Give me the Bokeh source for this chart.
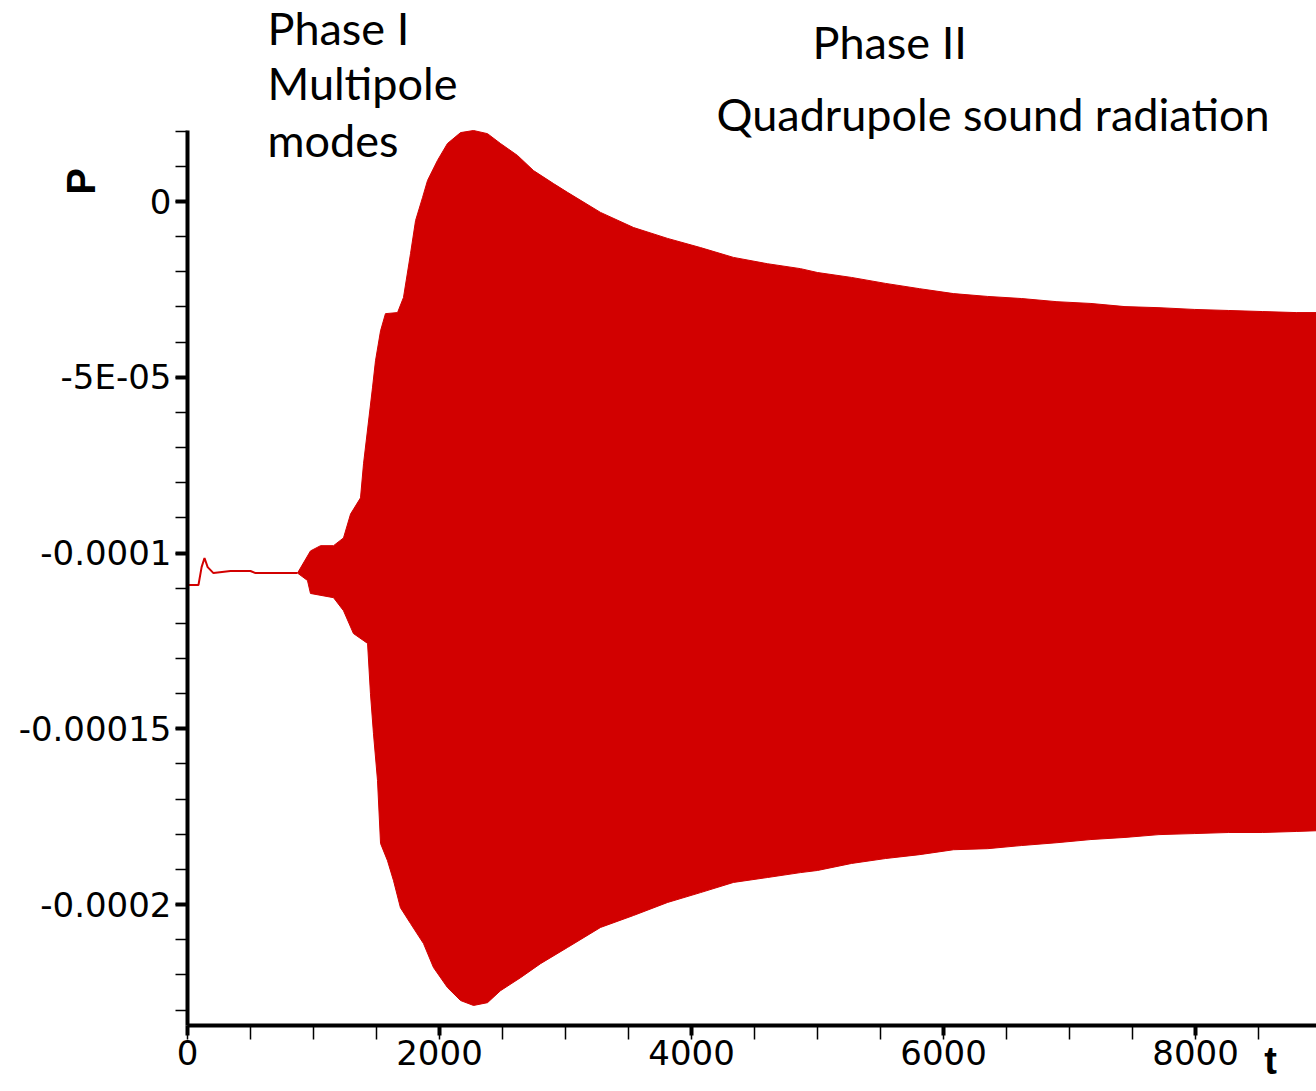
from bokeh.plotting import figure
from bokeh.models import Range1d, FixedTicker, CustomJSTickFormatter, Label
from bokeh.embed import file_html
from bokeh.resources import INLINE
import math

# ---------------- data ----------------
P_UNIT = 1e-6  # values below are in units of 1e-6

# quiet start before the oscillation sets in
t_start = [0, 87, 112, 135, 160, 206, 341, 500, 540, 817, 873]
p_start = [-109.1, -109.1, -104.0, -101.4, -104.0, -105.7, -105.1, -105.1, -105.7, -105.7, -105.7]

# upper envelope of the oscillating signal
t_upper = [873, 976, 1056, 1159, 1238, 1294, 1373, 1397, 1468, 1492, 1532, 1571, 1667, 1714,
           1770, 1810, 1865, 1905, 1984, 2063, 2167, 2270, 2381, 2484, 2619, 2746, 2905, 3016,
           3278, 3540, 3810, 4071, 4333, 4603, 4865, 5000, 5270, 5540, 5810, 6080, 6350,
           6620, 6900, 7170, 7440, 7710, 7990, 8260, 8530, 8800, 8960]
p_upper = [-105.7, -99.4, -97.9, -97.9, -95.7, -88.9, -84.3, -74.6, -53.0, -45.3, -36.8, -31.9,
           -31.6, -27.3, -14.8, -5.4, 1.1, 6.0, 11.7, 16.5, 19.6, 20.2, 19.3, 16.5, 13.1, 8.8,
           5.1, 2.6, -3.1, -7.4, -10.5, -13.1, -15.9, -17.7, -19.1, -20.2, -21.6, -23.3, -24.8,
           -26.2, -27.0, -27.6, -28.5, -29.0, -29.9, -30.2, -30.7, -31.0, -31.3, -31.6, -31.6]

# lower envelope of the oscillating signal
t_lower = [873, 952, 976, 1159, 1238, 1317, 1429, 1452, 1476, 1508, 1532, 1587, 1635, 1690,
           1770, 1873, 1952, 2063, 2167, 2270, 2381, 2484, 2643, 2802, 3016, 3278, 3540, 3810,
           4071, 4333, 4603, 4865, 5000, 5270, 5540, 5810, 6080, 6350, 6620, 6900, 7170,
           7440, 7710, 7990, 8260, 8530, 8800, 8960]
p_lower = [-105.7, -107.8, -111.5, -112.7, -116.4, -122.9, -125.7, -140.0, -151.4, -164.7,
           -182.6, -187.5, -193.2, -200.9, -205.4, -211.1, -217.9, -223.6, -227.3, -228.7,
           -227.9, -224.5, -220.8, -216.8, -212.2, -206.5, -203.1, -199.4, -196.6, -193.7,
           -192.3, -190.9, -190.3, -188.3, -186.9, -185.8, -184.4, -184.1, -183.2, -182.4,
           -181.5, -180.9, -180.1, -179.8, -179.5, -179.5, -179.2, -179.0]

# axis ticks and labels
x_ticks = [0, 2000, 4000, 6000, 8000]
x_tick_labels = ["0", "2000", "4000", "6000", "8000"]
x_minor = [v * 500 for v in range(0, 19)]
y_ticks = [-200, -150, -100, -50, 0]
y_tick_labels = ["-0.0002", "-0.00015", "-0.0001", "-5E-05", "0"]
y_minor = [v * 10 for v in range(-23, 3)]

# ---------------- layout ----------------
W, H = 1316, 1091
LEFT, TOP, BOTTOM = 187, 130, 66          # where the axes box sits in the canvas
X0, X1 = 0.0, 8960.0                       # visible t span of the axes box
Y0, Y1 = -234.4 * P_UNIT, 20.2 * P_UNIT    # visible P span of the axes box
XPP = (X1 - X0) / (W - LEFT)               # data units per pixel
YPP = (Y1 - Y0) / (H - TOP - BOTTOM)
XR0, XR1 = X0 - LEFT * XPP, X1
YR0, YR1 = Y0 - BOTTOM * YPP, Y1 + TOP * YPP
TEXT_SHIFT = 17                            # baseline correction for labels, px

def dx(px):
    return XR0 + px * XPP

def dy(py):
    return YR1 - (py - TEXT_SHIFT) * YPP

p = figure(width=W, height=H, output_backend="svg", toolbar_location=None,
           x_range=Range1d(XR0, XR1), y_range=Range1d(YR0, YR1),
           min_border=0, min_border_left=0, min_border_right=0, min_border_top=0,
           min_border_bottom=0)
p.outline_line_color = None
p.xgrid.grid_line_color = None
p.ygrid.grid_line_color = None
p.background_fill_color = "white"
p.border_fill_color = "white"

RED = "#d20000"

# filled oscillation band
xs = t_upper + t_lower[::-1]
ys = [v * P_UNIT for v in p_upper] + [v * P_UNIT for v in p_lower[::-1]]
p.patch(xs, ys, fill_color=RED, line_color=RED, line_width=1)
p.line(t_start, [v * P_UNIT for v in p_start], line_color=RED, line_width=2)

# axes (drawn at fixed positions inside the canvas)
xa, ya = p.xaxis[0], p.yaxis[0]
xa.fixed_location = Y0
xa.bounds = (X0, X1)
ya.fixed_location = X0
ya.bounds = (Y0, Y1)
for ax in (xa, ya):
    ax.axis_line_width = 4
    ax.axis_line_color = "black"
    ax.major_tick_line_width = 4
    ax.major_tick_line_color = "black"
    ax.minor_tick_line_width = 1.5
    ax.minor_tick_line_color = "black"
    ax.major_tick_in = 0
    ax.minor_tick_in = 0
    ax.major_label_text_font = "DejaVu Sans"
    ax.major_label_text_font_size = "34px"
    ax.major_label_text_color = "black"

xa.major_tick_out = 10
xa.minor_tick_out = 14
ya.major_tick_out = 12
ya.minor_tick_out = 12
xa.major_label_standoff = 0
ya.major_label_standoff = 4

xa.ticker = FixedTicker(ticks=x_ticks, minor_ticks=x_minor)
ya.ticker = FixedTicker(ticks=[v * P_UNIT for v in y_ticks],
                        minor_ticks=[v * P_UNIT for v in y_minor])
fmt_code = """
for (let i = 0; i < tvals.length; i++) {
  if (Math.abs(tick - tvals[i]) < 1e-3 * Math.abs(unit)) { return tlabels[i]; }
}
return "";
"""
xa.formatter = CustomJSTickFormatter(
    args=dict(tvals=x_ticks, tlabels=x_tick_labels, unit=1.0), code=fmt_code)
ya.formatter = CustomJSTickFormatter(
    args=dict(tvals=[v * P_UNIT for v in y_ticks], tlabels=y_tick_labels, unit=P_UNIT),
    code=fmt_code)

# axis titles
p.add_layout(Label(x=dx(80), y=dy(181 + TEXT_SHIFT), text="P", angle=math.pi / 2,
                   text_font="Liberation Sans", text_font_style="bold",
                   text_font_size="40px", text_align="center", text_baseline="middle",
                   text_color="black"))
p.add_layout(Label(x=dx(1270), y=dy(1077), text="t",
                   text_font="Liberation Sans", text_font_style="bold",
                   text_font_size="38px", text_align="center", text_baseline="alphabetic",
                   text_color="black"))

# annotations
ann_font = "Lato"
ann_size = "45px"
for txt, px, py in [("Phase I", 267, 44), ("Multipole", 267, 99), ("modes", 267, 156),
                    ("Phase II", 812, 58), ("Quadrupole sound radiation", 716, 130)]:
    p.add_layout(Label(x=dx(px), y=dy(py), text=txt, text_font=ann_font,
                       text_font_size=ann_size, text_align="left",
                       text_baseline="alphabetic", text_color="black"))

open("out.html", "w").write(file_html(p, INLINE))
